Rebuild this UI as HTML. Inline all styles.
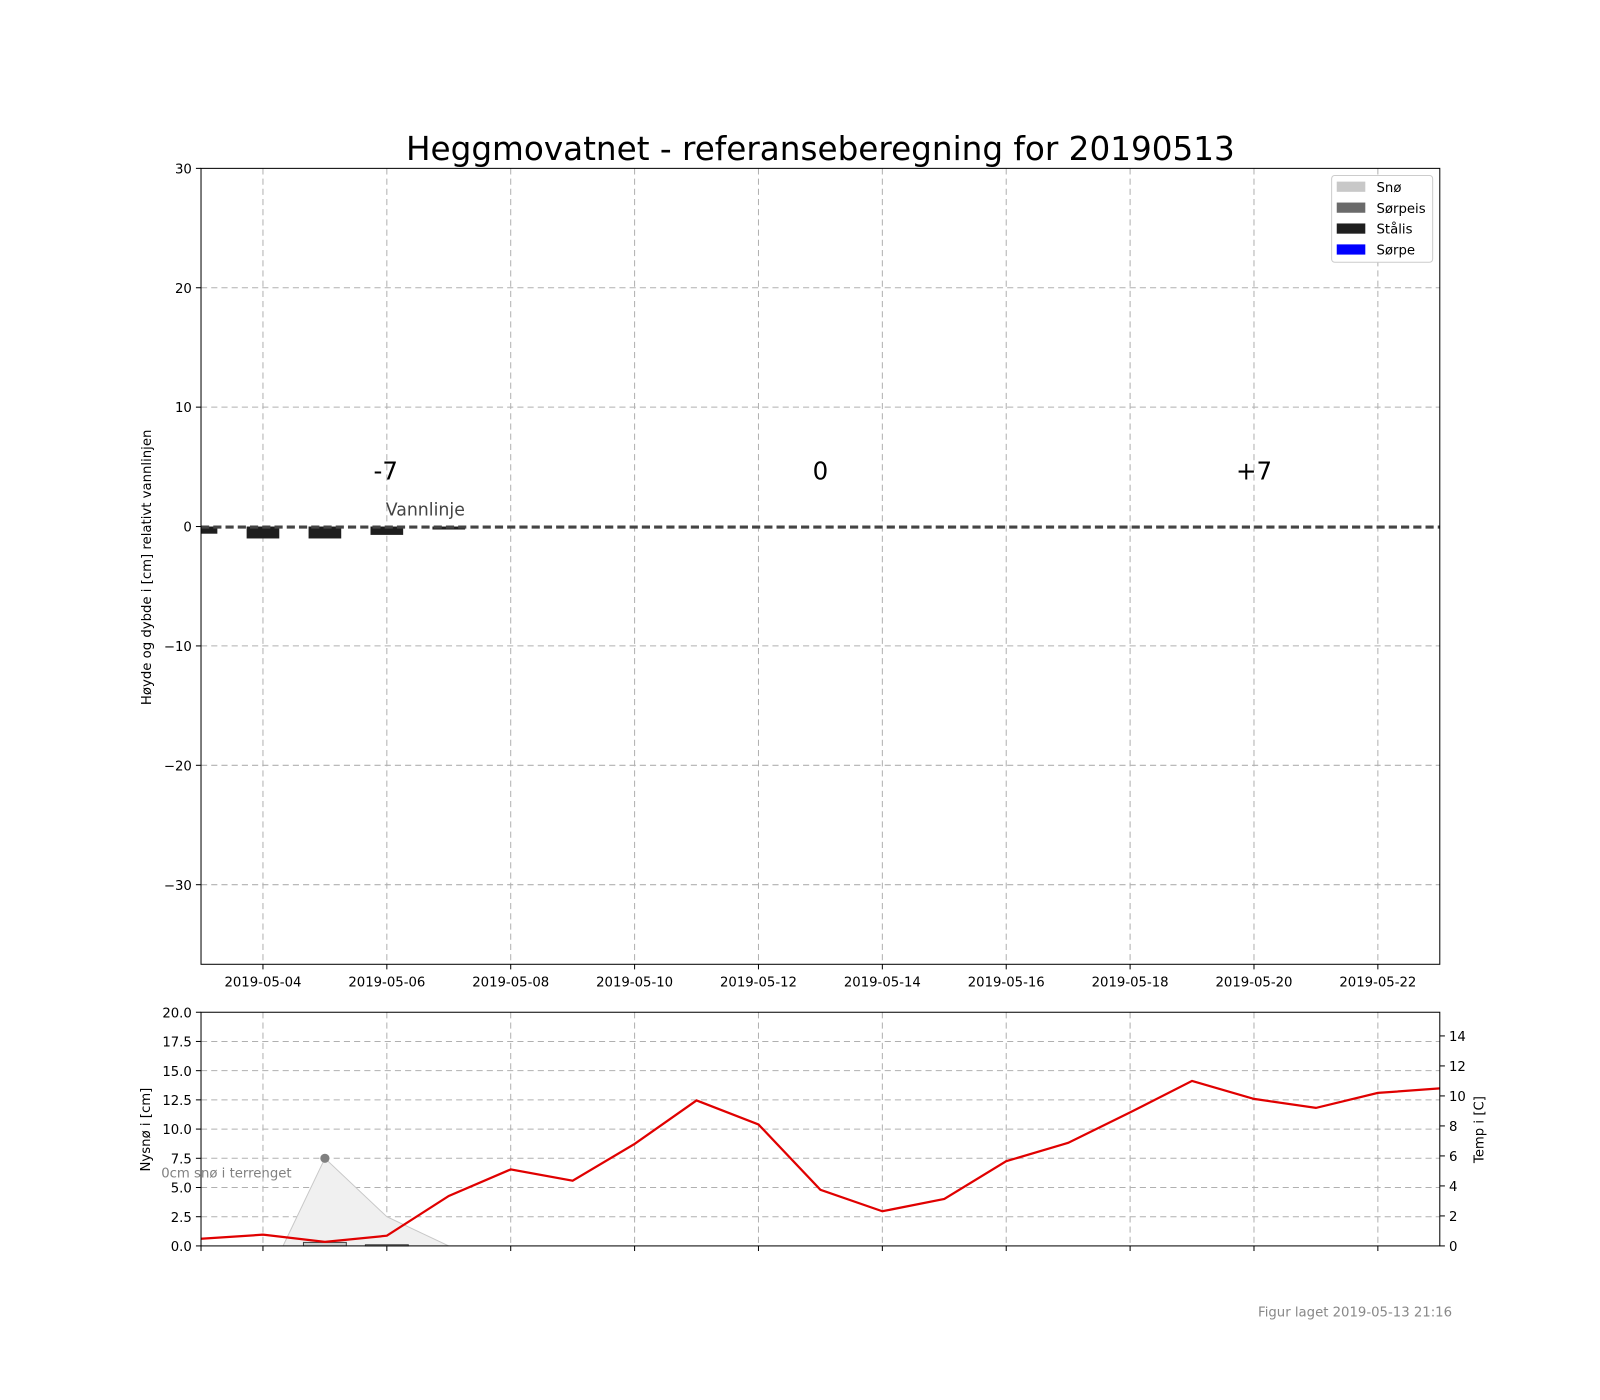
<!DOCTYPE html>
<html><head><meta charset="utf-8"><style>
body{margin:0;background:#fff;overflow:hidden;}
svg{display:block;}
svg text{font-family:"DejaVu Sans","Liberation Sans",sans-serif;}
</style></head><body>
<svg id="chart" width="1600" height="1400" viewBox="0 0 1568 1372">
<rect width="1568" height="1372" fill="#fff"/>
<text x="804" y="157" font-size="32" text-anchor="middle">Heggmovatnet - referanseberegning for 20190513</text>
<g id="main"></g>
<g id="sub"></g>
<text x="1423" y="1290" font-size="13" fill="#888" text-anchor="end">Figur laget 2019-05-13 21:16</text>
</svg>
<script>
const dayLabels=["2019-05-04","2019-05-06","2019-05-08","2019-05-10","2019-05-12","2019-05-14","2019-05-16","2019-05-18","2019-05-20","2019-05-22"];
const yTicks=[30,20,10,0,-10,-20,-30];
const iceDays=[0,1,2,3,4];
const iceValues=[-0.6,-1.0,-1.0,-0.7,-0.25];
const snowDays=[1,2,3,4];
const snowValues=[-3.6,7.5,2.5,0];
const tempValues=[0.48,0.75,0.27,0.68,3.33,5.1,4.35,6.8,9.7,8.1,3.74,2.31,3.13,5.65,6.87,8.9,11.0,9.8,9.2,10.2,10.5];
const snowTicks=[0,2.5,5,7.5,10,12.5,15,17.5,20];
const tempTicks=[0,2,4,6,8,10,12,14];
const NS="http://www.w3.org/2000/svg";
function el(t,a,p){const e=document.createElementNS(NS,t);for(const k in a)e.setAttribute(k,a[k]);p.appendChild(e);return e;}
const L=197,R=1411;
const xs=d=>L+(R-L)*d/20;
const ym=v=>516-(v*11.7);
const main=document.getElementById('main'),sub=document.getElementById('sub');
for(let i=0;i<dayLabels.length;i++){const x=xs(1+2*i);
 const g=el('line',{x1:x,x2:x,y1:165,y2:945,stroke:'#b0b0b0','stroke-dasharray':'6,4'},main);
 
 el('line',{x1:x,x2:x,y1:945,y2:950,stroke:'#000'},main);
 const t=el('text',{x:x,y:967,'font-size':13,'text-anchor':'middle'},main);t.textContent=dayLabels[i];
 
 el('line',{x1:x,x2:x,y1:992,y2:1221,stroke:'#b0b0b0','stroke-dasharray':'6,4'},sub);
 el('line',{x1:x,x2:x,y1:1221,y2:1226,stroke:'#000'},sub);
}
el('line',{x1:xs(0),x2:xs(0),y1:1221,y2:1226,stroke:'#000'},sub);
yTicks.forEach(v=>{const y=ym(v);
 if(v!==30&&v!==0){const g=el('line',{x1:L,x2:R,y1:y,y2:y,stroke:'#b0b0b0','stroke-dasharray':'6,4'},main);}
 el('line',{x1:L-5,x2:L,y1:y,y2:y,stroke:'#000'},main);
 const t=el('text',{x:L-9,y:y+5,'font-size':13,'text-anchor':'end'},main);t.textContent=v<0?'\u2212'+(-v):v;
 
});
iceValues.forEach((v,i)=>{const x=xs(iceDays[i])-16;const x0=Math.max(x,L);const w=x+32-x0;
 const b=el('rect',{x:x0,y:516,width:w,height:-v*11.7,fill:'#1e1e1e'},main);
 });
el('line',{x1:L,x2:R,y1:516.5,y2:516.5,stroke:'#444','stroke-width':3,'stroke-dasharray':'8,4'},main);
el('rect',{x:L,y:165,width:R-L,height:780,fill:'none',stroke:'#000'},main);
[["-7",378],["0",804],["+7",1229]].forEach(([s,x])=>{const t=el('text',{x:x,y:470,'font-size':24,'text-anchor':'middle'},main);t.textContent=s;});
let t=el('text',{x:378,y:505,'font-size':17,fill:'#444'},main);t.textContent='Vannlinje';
t=el('text',{x:0,y:0,'font-size':13,'text-anchor':'middle',transform:'translate(148,556) rotate(-90)'},main);t.textContent='Høyde og dybde i [cm] relativt vannlinjen';
const lg=el('g',{},main);
el('rect',{x:1305,y:172,width:99,height:85,fill:'#fff',stroke:'#ccc',rx:3},lg);
[["Snø","#c8c8c8"],["Sørpeis","#6a6a6a"],["Stålis","#1e1e1e"],["Sørpe","#0000ff"]].forEach(([n,c],i)=>{
 const y=178+i*20.5;el('rect',{x:1310,y:y,width:28,height:10,fill:c},lg);
 const tt=el('text',{x:1349,y:y+10,'font-size':13},lg);tt.textContent=n;});
const ysn=v=>1221-v*11.45, yt=v=>1221-v*14.7;
snowTicks.forEach(v=>{const y=ysn(v);
 if(v>0&&v<20)el('line',{x1:L,x2:R,y1:y,y2:y,stroke:'#b0b0b0','stroke-dasharray':'6,4'},sub);
 el('line',{x1:L-5,x2:L,y1:y,y2:y,stroke:'#000'},sub);
 const tt=el('text',{x:L-9,y:y+5,'font-size':13,'text-anchor':'end'},sub);tt.textContent=v.toFixed(1);
 });
tempTicks.forEach(v=>{const y=yt(v);el('line',{x1:R,x2:R+5,y1:y,y2:y,stroke:'#000'},sub);
 const tt=el('text',{x:R+9,y:y+5,'font-size':13},sub);tt.textContent=v;});
el('clipPath',{id:'cp'},sub);el('rect',{x:L,y:992,width:R-L,height:229},document.getElementById('cp'));
const pts=snowDays.map((d,i)=>xs(d)+','+ysn(snowValues[i])).join(' ');
const poly=el('polygon',{points:xs(snowDays[0])+','+ysn(0)+' '+pts,fill:'#f0f0f0',stroke:'#c8c8c8','clip-path':'url(#cp)'},sub);

el('rect',{x:xs(2)-21,y:ysn(0.3),width:42,height:0.3*11.45,fill:'#ccc',stroke:'#444'},sub);
el('rect',{x:xs(3)-21,y:ysn(0.1),width:42,height:1.2,fill:'#ccc',stroke:'#444'},sub);
const dot=el('circle',{cx:xs(2),cy:ysn(7.5),r:4.5,fill:'#808080'},sub);
const tl=el('polyline',{points:tempValues.map((v,i)=>xs(i)+','+yt(v)).join(' '),fill:'none',stroke:'#e00000','stroke-width':2.2},sub);

el('rect',{x:L,y:992,width:R-L,height:229,fill:'none',stroke:'#000'},sub);
t=el('text',{x:158,y:1154,'font-size':13,fill:'#808080'},sub);t.textContent='0cm snø i terrenget';
t=el('text',{x:0,y:0,'font-size':13,'text-anchor':'middle',transform:'translate(147,1107) rotate(-90)'},sub);t.textContent='Nysnø i [cm]';
t=el('text',{x:0,y:0,'font-size':13,'text-anchor':'middle',transform:'translate(1454,1107) rotate(-90)'},sub);t.textContent='Temp i [C]';
</script>
</body></html>
